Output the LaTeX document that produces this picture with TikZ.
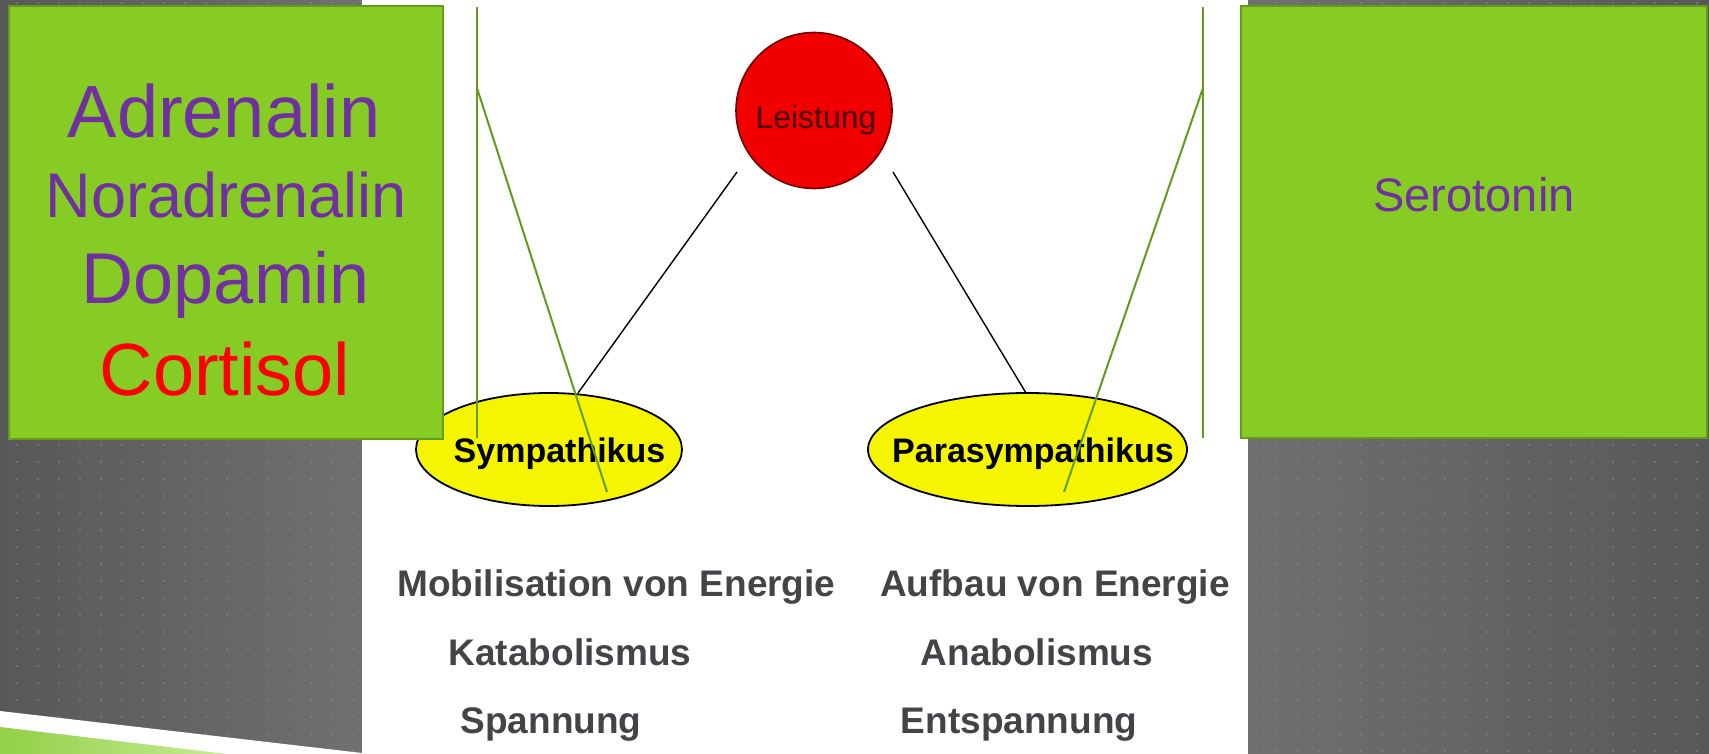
\documentclass[tikz,border=0pt]{standalone}
\usepackage{fontspec}
\setmainfont{Liberation Sans}
\usetikzlibrary{shapes.geometric}
\definecolor{boxgreen}{RGB}{134,204,37}
\definecolor{boxborder}{RGB}{100,155,28}
\definecolor{hormone}{RGB}{112,48,160}
\definecolor{ellyellow}{RGB}{245,245,0}
\definecolor{circred}{RGB}{242,0,0}
\definecolor{circborder}{RGB}{110,0,0}
\definecolor{leistext}{RGB}{75,0,0}
\definecolor{bottomtext}{RGB}{68,68,72}
\definecolor{slidedark}{RGB}{88,88,88}
\definecolor{slidelight}{RGB}{112,112,112}
\definecolor{dotcol}{RGB}{140,140,140}
\definecolor{stripA}{RGB}{146,208,70}
\definecolor{stripB}{RGB}{200,235,150}
\begin{document}
\begin{tikzpicture}[x=1pt,y=-1pt,
  gbox/.style={draw=boxborder,line width=1.5pt,fill=boxgreen,rectangle,inner sep=0pt},
  hormtext/.style={anchor=base,inner sep=0pt,text=hormone},
  ellnode/.style={ellipse,draw=black,line width=1.8pt,fill=ellyellow,inner sep=0pt,minimum height=113pt},
  elltext/.style={anchor=base,inner sep=0pt,font=\fontsize{34}{34}\bfseries\selectfont},
  btext/.style={anchor=base,inner sep=0pt,text=bottomtext,font=\fontsize{37}{37}\bfseries\selectfont},
  greenline/.style={draw=boxborder,line width=2pt},
  blackline/.style={draw=black,line width=1.4pt}]
\useasboundingbox (0,0) rectangle (1709,754);
% slide background
\shade[left color=slidedark,right color=slidelight] (0,0) rectangle (362,754);
\shade[left color=slidelight,right color=slidedark] (1248,0) rectangle (1709,754);
\foreach \x in {17,38,...,362} \foreach \y in {3,20,...,754} \fill[dotcol] (\x,\y) circle (0.9pt);
\foreach \x in {1256,1277,...,1709} \foreach \y in {3,20,...,754} \fill[dotcol] (\x,\y) circle (0.9pt);
\fill[white] (362,0) rectangle (1248,754);
% bottom-left strip
\fill[white] (0,711) -- (362,753) -- (362,754) -- (0,754) -- cycle;
\shade[left color=stripA,right color=stripB] (0,727) -- (227,754) -- (0,754) -- cycle;
% diagram
\node[circle,draw=circborder,line width=1.6pt,fill=circred,minimum size=156pt,inner sep=0pt] (leis) at (814,110.5) {};
\node[anchor=base,inner sep=0pt,text=leistext,font=\fontsize{32}{32}\selectfont] (leistxt) at (816,129) {Leistung};
\node[ellnode,minimum width=266pt] (symp) at (549,449.5) {};
\node[elltext] (symptxt) at (559.5,462) {Sympathikus};
\node[ellnode,minimum width=319pt] (para) at (1027.5,449.5) {};
\node[elltext] (paratxt) at (1033,462) {Parasympathikus};
\coordinate (lsA) at (737,172);
\coordinate (lsB) at (893,172);
\coordinate (syTop) at (578,393);
\coordinate (paTop) at (1026,393);
\draw[blackline] (lsA) -- (syTop);
\draw[blackline] (lsB) -- (paTop);
% bottom texts
\node[btext] (mob) at (616.5,596) {Mobilisation von Energie};
\node[btext] (kat) at (570,665) {Katabolismus};
\node[btext] (spa) at (551,733) {Spannung};
\node[btext] (auf) at (1055,596) {Aufbau von Energie};
\node[btext] (ana) at (1037,665) {Anabolismus};
\node[btext] (ent) at (1019,733) {Entspannung};
% boxes
\node[gbox,minimum width=434pt,minimum height=433pt] (lbox) at (226,222.5) {};
\node[hormtext,font=\fontsize{74}{74}\selectfont] (adr) at (224,138) {Adrenalin};
\node[hormtext,font=\fontsize{63}{63}\selectfont] (nor) at (226,218) {Noradrenalin};
\node[hormtext,font=\fontsize{72}{72}\selectfont] (dop) at (226,304) {Dopamin};
\node[anchor=base,inner sep=0pt,text=red,font=\fontsize{74}{74}\selectfont] (cor) at (225,395) {Cortisol};
\node[gbox,minimum width=466pt,minimum height=432pt] (rbox) at (1474,222) {};
\node[hormtext,font=\fontsize{47}{47}\selectfont] (ser) at (1474,211.5) {Serotonin};
% green bracket lines
\coordinate (lgTop) at (477,7);
\coordinate (lgJoin) at (477,88);
\coordinate (lgBot) at (477,438);
\coordinate (lgEnd) at (607,492);
\coordinate (rgTop) at (1203,7);
\coordinate (rgJoin) at (1203,88);
\coordinate (rgBot) at (1203,438);
\coordinate (rgEnd) at (1064,492);
\draw[greenline] (lgTop) -- (lgBot);
\draw[greenline] (lgJoin) -- (lgEnd);
\draw[greenline] (rgTop) -- (rgBot);
\draw[greenline] (rgJoin) -- (rgEnd);
\end{tikzpicture}
\end{document}
